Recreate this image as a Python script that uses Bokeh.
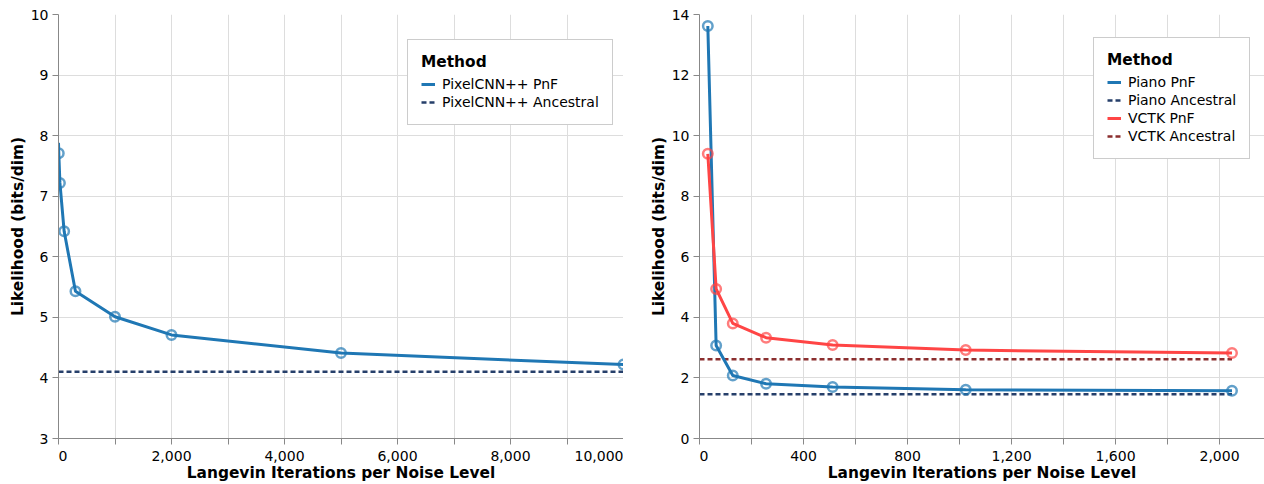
from bokeh.plotting import figure
from bokeh.layouts import row
from bokeh.models import Range1d, FixedTicker, Legend, LegendItem
from bokeh.embed import file_html
from bokeh.resources import INLINE

# ---------------- data ----------------
pixel_iters = [0, 5, 25, 100, 300, 1000, 2000, 5000, 10000]
pixel_pnf = [7.88, 7.71, 7.22, 6.42, 5.43, 5.01, 4.71, 4.41, 4.22]
pixel_anc_iters = [0, 10000]
pixel_anc = [4.1, 4.1]

audio_iters = [32, 64, 128, 256, 512, 1024, 2048]
piano_pnf = [13.62, 3.07, 2.08, 1.81, 1.70, 1.61, 1.58]
vctk_pnf = [9.40, 4.94, 3.80, 3.33, 3.09, 2.92, 2.82]
audio_anc_iters = [0, 2048]
piano_anc = [1.46, 1.46]
vctk_anc = [2.62, 2.62]

left_xticks = [0, 1000, 2000, 3000, 4000, 5000, 6000, 7000, 8000, 9000, 10000]
left_xlabels = ["0", "", "2,000", "", "4,000", "", "6,000", "", "8,000", "", "10,000"]
left_yticks = [3, 4, 5, 6, 7, 8, 9, 10]
right_xticks = [0, 200, 400, 600, 800, 1000, 1200, 1400, 1600, 1800, 2000]
right_xlabels = ["0", "", "400", "", "800", "", "1,200", "", "1,600", "", "2,000"]
right_yticks = [0, 2, 4, 6, 8, 10, 12, 14]

x_title = "Langevin Iterations per Noise Level"
y_title = "Likelihood (bits/dim)"
legend_title = "Method"

# ---------------- style ----------------
FONT = "DejaVu Sans"
BLUE = "#1f77b4"
NAVY = "#263f6a"
RED = "#ff4545"
DRED = "#8b2e2e"
DASH = "5 3"
FIG_SP = "\u2007"   # digit-width space


def flush_left(lab):
    # centred label whose visible part starts at the tick
    return FIG_SP * len(lab) + lab if lab else lab


def style(p, xticks, xlabels, yticks):
    p.outline_line_color = None
    p.background_fill_color = "white"
    p.border_fill_color = "white"
    for ax in (p.xaxis[0], p.yaxis[0]):
        ax.axis_line_color = "#888888"
        ax.major_tick_line_color = "#888888"
        ax.minor_tick_line_color = None
        ax.major_tick_in = 0
        ax.major_tick_out = 6
        ax.major_label_text_font = FONT
        ax.major_label_text_font_size = "14px"
        ax.major_label_text_color = "black"
        ax.axis_label_text_font = FONT
        ax.axis_label_text_font_size = "15.4px"
        ax.axis_label_text_font_style = "bold"
        ax.axis_label_text_color = "black"
    p.xaxis.ticker = FixedTicker(ticks=xticks)
    p.xgrid.ticker = FixedTicker(ticks=xticks)
    overrides = {}
    for i, (t, lab) in enumerate(zip(xticks, xlabels)):
        if i == 0 and t <= p.x_range.start:
            overrides[t] = flush_left(lab)
        else:
            overrides[t] = lab
    p.xaxis.major_label_overrides = overrides
    p.xaxis.major_label_standoff = 3
    p.xaxis.axis_label = x_title
    p.xaxis.axis_label_standoff = -3
    p.yaxis.ticker = FixedTicker(ticks=yticks)
    p.ygrid.ticker = FixedTicker(ticks=yticks)
    p.yaxis.major_label_standoff = 4
    p.yaxis.axis_label = y_title
    p.yaxis.axis_label_standoff = 1
    for g in (p.xgrid[0], p.ygrid[0]):
        g.grid_line_color = "#dddddd"
        g.grid_line_width = 1


def legend(items, loc):
    return Legend(items=items, location=loc, title=legend_title,
                  title_text_font=FONT, title_text_font_size="15.4px",
                  title_text_font_style="bold", title_text_color="black",
                  label_text_font=FONT, label_text_font_size="14px",
                  label_text_color="black",
                  glyph_width=14, glyph_height=18, label_height=18,
                  label_standoff=7, padding=13, spacing=0, title_standoff=4,
                  margin=0, border_line_color="#999999", border_line_width=1.5,
                  background_fill_color="white", background_fill_alpha=1)


# ---------------- left chart ----------------
# the canvas ends at the last tick, so the "10,000" label is kept flush right
p1 = figure(width=623, height=484, x_range=Range1d(0, 10000), y_range=Range1d(3, 10),
            output_backend="svg", toolbar_location=None, min_border=0,
            min_border_left=58, min_border_right=0, min_border_top=14, min_border_bottom=46)
style(p1, left_xticks, left_xlabels, left_yticks)
la = p1.line(pixel_anc_iters, pixel_anc, line_color=NAVY, line_width=2.5, line_dash=DASH)
lp = p1.line(pixel_iters, pixel_pnf, line_color=BLUE, line_width=3)
p1.scatter(pixel_iters[1:], pixel_pnf[1:], marker="circle", size=9.5, fill_color=None,
           line_color=BLUE, line_alpha=0.7, line_width=2.5)
p1.add_layout(legend([LegendItem(label="PixelCNN++ PnF", renderers=[lp]),
                      LegendItem(label="PixelCNN++ Ancestral", renderers=[la])],
                     (349, 313)))

# ---------------- right chart ----------------
p2 = figure(width=641, height=484, x_range=Range1d(0, 2173), y_range=Range1d(0, 14),
            output_backend="svg", toolbar_location=None, min_border=0,
            min_border_left=76, min_border_right=0, min_border_top=14, min_border_bottom=46)
style(p2, right_xticks, right_xlabels, right_yticks)
pa = p2.line(audio_anc_iters, piano_anc, line_color=NAVY, line_width=2.5, line_dash=DASH)
va = p2.line(audio_anc_iters, vctk_anc, line_color=DRED, line_width=2.5, line_dash=DASH)
pp = p2.line(audio_iters, piano_pnf, line_color=BLUE, line_width=3)
vp = p2.line(audio_iters, vctk_pnf, line_color=RED, line_width=3)
p2.scatter(audio_iters, piano_pnf, marker="circle", size=9.5, fill_color=None,
           line_color=BLUE, line_alpha=0.7, line_width=2.5)
p2.scatter(audio_iters, vctk_pnf, marker="circle", size=9.5, fill_color=None,
           line_color=RED, line_alpha=0.7, line_width=2.5)
p2.add_layout(legend([LegendItem(label="Piano PnF", renderers=[pp]),
                      LegendItem(label="Piano Ancestral", renderers=[pa]),
                      LegendItem(label="VCTK PnF", renderers=[vp]),
                      LegendItem(label="VCTK Ancestral", renderers=[va])],
                     (394, 279)))

layout = row(p1, p2)
open("out.html", "w").write(file_html(layout, INLINE))
